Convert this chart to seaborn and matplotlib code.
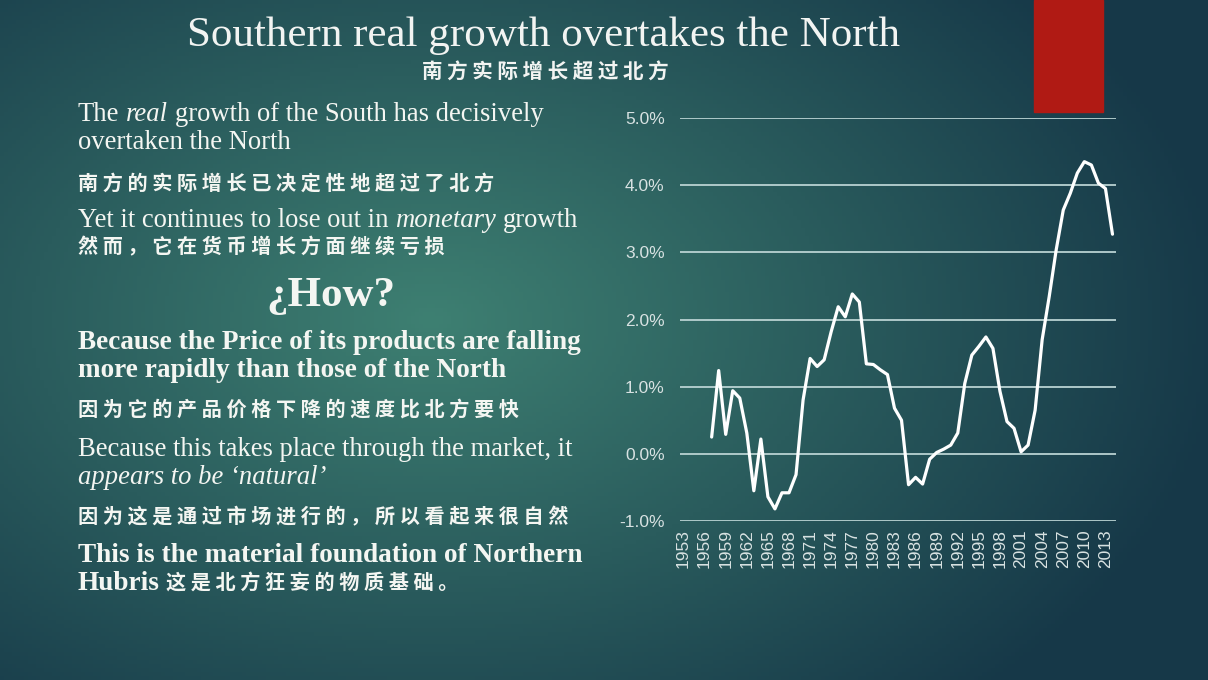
import numpy as np
import pandas as pd
import matplotlib
matplotlib.use('Agg')
import matplotlib.pyplot as plt
import matplotlib.ticker as mticker
from matplotlib.patches import Rectangle
import seaborn as sns

# --- Data ---
years = list(range(1957, 2015))
real_growth_gap = [0.25, 1.24, 0.29, 0.94, 0.83, 0.31, -0.55, 0.22, -0.64, -0.82,
                   -0.58, -0.58, -0.31, 0.80, 1.42, 1.30, 1.40, 1.82, 2.19, 2.04,
                   2.38, 2.26, 1.34, 1.33, 1.25, 1.18, 0.68, 0.50, -0.46, -0.35,
                   -0.45, -0.08, 0.02, 0.07, 0.13, 0.31, 1.05, 1.47, 1.60, 1.74,
                   1.57, 0.93, 0.48, 0.38, 0.03, 0.13, 0.65, 1.70, 2.34, 3.04,
                   3.63, 3.88, 4.18, 4.35, 4.30, 4.03, 3.95, 3.27]
tick_years = list(range(1953, 2014, 3))
y_ticks = [-1.0, 0.0, 1.0, 2.0, 3.0, 4.0, 5.0]

title = 'Southern real growth overtakes the North'
subtitle = '南方实际增长超过北方'

df = pd.DataFrame({'Year': years, 'Growth': real_growth_gap})

sns.set_style('white')
SERIF = ['Liberation Serif', 'Noto Sans CJK SC', 'DejaVu Sans']
CJK = ['Noto Sans CJK SC', 'DejaVu Sans']
plt.rcParams['font.family'] = SERIF
plt.rcParams['axes.unicode_minus'] = False

W, H = 1208, 680
fig = plt.figure(figsize=(W / 100, H / 100), dpi=100)

def fx(x):
    return x / W

def fy(y):
    return 1 - y / H

# 1. Background gradient
bg = fig.add_axes([0, 0, 1, 1], zorder=-10)
gx, gy = np.meshgrid(np.linspace(0, W, 300), np.linspace(0, H, 170))
r = np.sqrt(((gx - 430) / 800) ** 2 + ((gy - 320) / 520) ** 2)
t = np.clip(r, 0, 1)[..., None]
light = np.array([62, 128, 114]) / 255
dark = np.array([22, 56, 72]) / 255
bg.imshow(light * (1 - t) + dark * t, aspect='auto', extent=[0, 1, 0, 1])
bg.axis('off')

# decorative red block
fig.patches.append(Rectangle((fx(1034), fy(112)), fx(1103) - fx(1034), 112 / H,
                             transform=fig.transFigure, color='#b01a14', zorder=5))

# 2. Chart
ax = fig.add_axes([fx(680), fy(521), fx(1116) - fx(680), (521 - 118) / H])
ax.patch.set_alpha(0)
sns.lineplot(data=df, x='Year', y='Growth', ax=ax, color='white', lw=2.3)
ax.set_xlim(1952.5, 2014.5)
ax.set_ylim(-1, 5)
ax.set_yticks(y_ticks)
ax.set_xticks(tick_years)
ax.set_xticklabels([str(y) for y in tick_years], rotation=90)
ax.yaxis.set_major_formatter(mticker.FuncFormatter(lambda v, p: f'{v:.1f}%'))
ax.grid(axis='y', color='#b9d2d2', lw=1.3)
ax.grid(axis='x', visible=False)
ax.set_axisbelow(True)
for s in ax.spines.values():
    s.set_visible(False)
ax.tick_params(length=0, labelcolor='#d8e2e2', labelsize=12.5, pad=6)
ax.tick_params(axis='y', pad=11)
for lab in ax.get_xticklabels() + ax.get_yticklabels():
    lab.set_family(['Liberation Sans', 'DejaVu Sans'])
ax.set_xlabel('')
ax.set_ylabel('')

# 3. Text
TXT = '#f4f6f2'
REG = 19.2
BOLD = 19.6
CN = 14.5

def spaced(s):
    return ' '.join(s)

fig.text(fx(544), fy(46), title, ha='center', va='baseline', color='#f2f4f2',
         fontsize=31, family=SERIF)
fig.text(fx(545), fy(72), spaced(subtitle), ha='center', va='center', color='#f2f4f2',
         fontsize=14.8, family=CJK, fontweight='bold')

def simple(text, x, y, size=REG, **style):
    kw = dict(color=TXT, fontsize=size, family=SERIF)
    kw.update(style)
    return fig.text(fx(x), fy(y), text, ha='left', va='baseline', **kw)

def cn(text, x, y):
    return simple(spaced(text), x, y, size=CN, family=CJK, fontweight='bold')

def chain(first, rest, size=REG, gap=4.8):
    prev = first
    for text, style in rest:
        kw = dict(color=TXT, fontsize=size, family=SERIF)
        kw.update(style)
        prev = plt.annotate(text, xy=(1, 0), xycoords=prev, xytext=(gap, 0),
                            textcoords='offset points', ha='left', va='bottom', **kw)
    return prev

t1 = simple('The', 78, 121)
chain(t1, [('real', {'style': 'italic'}), ('growth of the South has decisively', {})])
simple('overtaken the North', 78, 149)
cn('南方的实际增长已决定性地超过了北方', 78, 190)
t4 = simple('Yet it continues to lose out in', 78, 227)
chain(t4, [('monetary', {'style': 'italic'}), ('growth', {})])
cn('然而，它在货币增长方面继续亏损', 78, 253)
fig.text(fx(331), fy(306), '¿How?', ha='center', va='baseline', color=TXT,
         fontsize=31, fontweight='bold', family=SERIF)
simple('Because the Price of its products are falling', 78, 349, size=BOLD, fontweight='bold')
simple('more rapidly than those of the North', 78, 377, size=BOLD, fontweight='bold')
cn('因为它的产品价格下降的速度比北方要快', 78, 416)
simple('Because this takes place through the market, it', 78, 456)
simple('appears to be ‘natural’', 78, 484, style='italic')
cn('因为这是通过市场进行的，所以看起来很自然', 78, 523)
simple('This is the material foundation of Northern', 78, 562, size=BOLD, fontweight='bold')
simple('Hubris', 78, 590, size=BOLD, fontweight='bold')
cn('这是北方狂妄的物质基础。', 166, 589)

fig.savefig('out.png', dpi=100)
